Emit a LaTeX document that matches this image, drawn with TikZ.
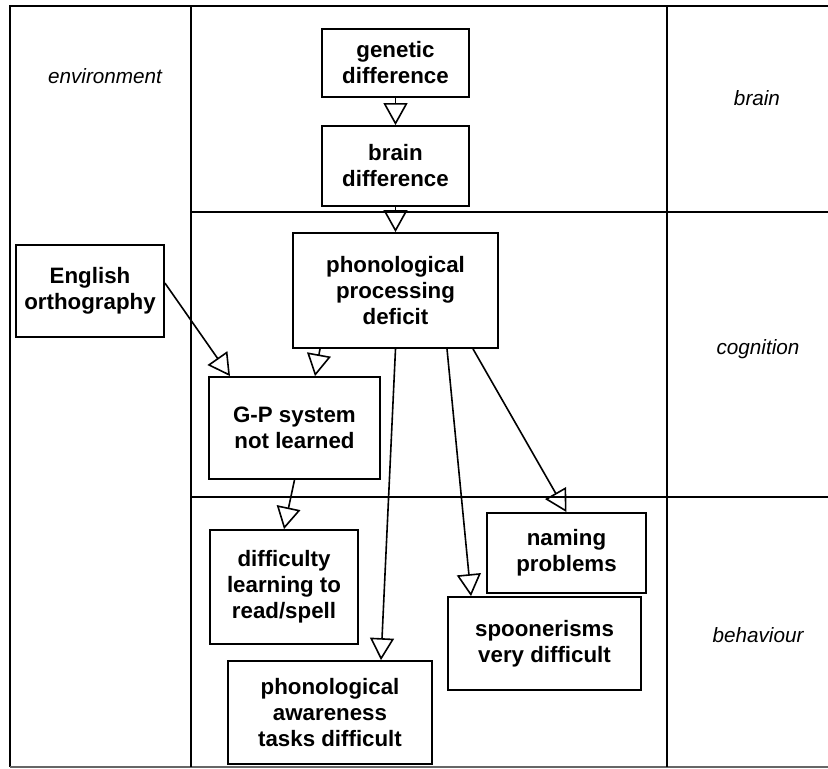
\documentclass[tikz,border=0pt]{standalone}
\usepackage{fontspec}
\setmainfont{Liberation Sans}
\usetikzlibrary{arrows.meta}
\begin{document}
\begin{tikzpicture}[x=1pt,y=-1pt,
  box/.style={draw,line width=1.8pt,align=center,inner sep=0pt,
    font=\fontsize{22.3}{26}\selectfont\bfseries},
  lane/.style={font=\fontsize{20.7}{24}\selectfont\itshape},
  frame/.style={line width=1.6pt},
  sep/.style={line width=2.8pt},
  arr/.style={line width=1.6pt,-{Triangle[open,length=22pt,width=24pt,line width=1.6pt]}}]
\useasboundingbox (0,0) rectangle (828,769);
% frame
\draw[frame] (828,6) -- (10,6) -- (10,767);
\draw[line width=1.2pt,black!60] (10,767) -- (828,767);
\draw[frame] (191,6) -- (191,767);
\draw[frame] (667,6) -- (667,767);
\draw[sep] (191,212) -- (828,212);
\draw[sep] (191,497) -- (828,497);
% lane labels
\node[lane] (lenv) at (105,76) {environment};
\node[lane] (lbrain) at (757,98) {brain};
\node[lane] (lcog) at (758,349) {cognition};
\node[lane] (lbeh) at (758,635) {behaviour};
% boxes
\node[box,minimum width=147pt,minimum height=68pt] (gen) at (395.5,63) {genetic\\difference};
\node[box,minimum width=147pt,minimum height=80pt] (brain) at (395.5,166) {brain\\difference};
\node[box,minimum width=205pt,minimum height=115pt] (phon) at (395.5,290.5) {phonological\\processing\\deficit};
\node[box,minimum width=148pt,minimum height=92pt] (eng) at (90,291) {English\\orthography};
\node[box,minimum width=171pt,minimum height=102pt] (gp) at (294.5,428) {G-P system\\not learned};
\node[box,minimum width=148pt,minimum height=114pt] (diff) at (284,587) {difficulty\\learning to\\read/spell};
\node[box,minimum width=204pt,minimum height=103pt] (pa) at (330,712.5) {phonological\\awareness\\tasks difficult};
\node[box,minimum width=193pt,minimum height=93pt] (spoon) at (544.5,643.5) {spoonerisms\\very difficult};
\node[box,minimum width=159pt,minimum height=80pt] (naming) at (566.5,553) {naming\\problems};
% arrows
\draw[arr] (gen.south) -- (brain.north);
\draw[arr] (brain.south) -- (phon.north);
\draw[arr] ([yshift=8pt]eng.east) -- ([xshift=-64.5pt]gp.north);
\draw[arr] ([xshift=-75.5pt]phon.south) -- ([xshift=20.5pt]gp.north);
\draw[arr] (gp.south) -- (diff.north);
\draw[arr] (phon.south) -- ([xshift=51pt]pa.north);
\draw[arr] ([xshift=51.5pt]phon.south) -- ([xshift=-73.5pt]spoon.north);
\draw[arr] ([xshift=77.5pt]phon.south) -- (naming.north);
\end{tikzpicture}
\end{document}
